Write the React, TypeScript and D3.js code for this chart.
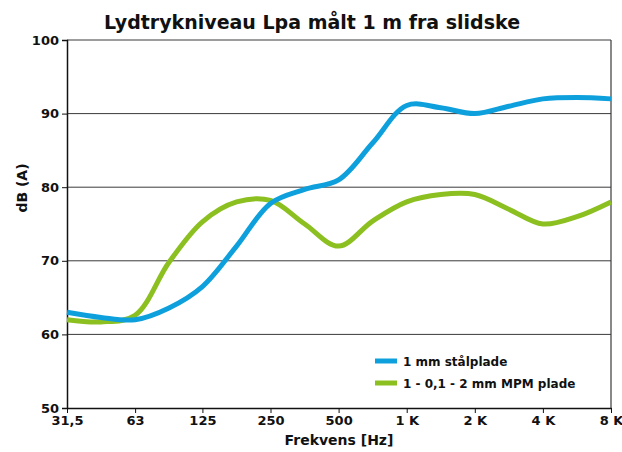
import React, { useRef, useEffect } from "react";
import * as d3 from "d3";

// half-octave frequencies (Hz)
const freqs = [31.5, 44.5, 63, 89, 125, 177, 250, 354, 500, 707, 1000, 1414, 2000, 2828, 4000, 5657, 8000];
const steelPlate = [63, 62.3, 62, 63.6, 66.5, 72, 77.8, 79.7, 81, 86, 91.1, 90.8, 90, 91, 92, 92.2, 92];
const mpmPlate = [62, 61.7, 62.6, 69.8, 75.3, 78, 78.2, 75, 72, 75.4, 78, 79, 79, 77, 75, 76, 78];

const tickFreqs = [31.5, 63, 125, 250, 500, 1000, 2000, 4000, 8000];
const tickLabels = ["31,5", "63", "125", "250", "500", "1 K", "2 K", "4 K", "8 K"];
const yTicks = [50, 60, 70, 80, 90, 100];

const seriesNames = ["1 mm stålplade", "1 - 0,1 - 2 mm MPM plade"];

const App: React.FC = () => {
  const chartRef = useRef<SVGSVGElement | null>(null);

  useEffect(() => {
    if (!chartRef.current) return;
    document.body.style.margin = "0";
    d3.select(chartRef.current).selectAll("*").remove();

    const width = 622;
    const height = 452;
    const margin = { top: 40, right: 11, bottom: 44, left: 67 };
    const font = "'DejaVu Sans', Verdana, sans-serif";

    const svg = d3
      .select(chartRef.current)
      .attr("width", width)
      .attr("height", height)
      .style("display", "block")
      .style("font-family", font);

    svg.append("rect").attr("width", width).attr("height", height).attr("fill", "#fff");

    const x = d3
      .scaleLog()
      .domain([31.5, 8000])
      .range([margin.left, width - margin.right]);
    const y = d3
      .scaleLinear()
      .domain([50, 100])
      .range([height - margin.bottom, margin.top]);

    // gridlines
    svg
      .append("g")
      .selectAll("line")
      .data(yTicks.filter((d) => d > 50))
      .enter()
      .append("line")
      .attr("x1", margin.left)
      .attr("x2", width - margin.right)
      .attr("y1", (d) => y(d))
      .attr("y2", (d) => y(d))
      .attr("stroke", "#3a3a3a")
      .attr("stroke-width", 1);

    // right border
    svg
      .append("line")
      .attr("x1", width - margin.right)
      .attr("x2", width - margin.right)
      .attr("y1", margin.top)
      .attr("y2", height - margin.bottom)
      .attr("stroke", "#3a3a3a")
      .attr("stroke-width", 1.2);

    // y axis
    const yAxis = svg
      .append("g")
      .attr("transform", `translate(${margin.left},0)`)
      .call(d3.axisLeft(y).tickValues(yTicks).tickSize(5).tickPadding(3));
    yAxis.select(".domain").attr("stroke", "#111").attr("stroke-width", 1.5);
    yAxis.selectAll(".tick line").attr("stroke", "#111");
    yAxis
      .selectAll("text")
      .style("font-size", "13px")
      .style("font-weight", "bold")
      .style("font-family", font)
      .attr("fill", "#111");

    // x axis
    const xAxis = svg
      .append("g")
      .attr("transform", `translate(0,${height - margin.bottom})`)
      .call(
        d3
          .axisBottom(x)
          .tickValues(tickFreqs)
          .tickFormat((d, i) => tickLabels[i])
          .tickSizeInner(5)
          .tickSizeOuter(0)
          .tickPadding(3)
      );
    xAxis.select(".domain").attr("stroke", "#111").attr("stroke-width", 1.5);
    xAxis.selectAll(".tick line").attr("stroke", "#111");
    xAxis
      .selectAll("text")
      .style("font-size", "13px")
      .style("font-weight", "bold")
      .style("font-family", font)
      .attr("fill", "#111");

    const colors = ["#0ea0dc", "#8cc021"];
    const line = d3
      .line<number>()
      .x((d, i) => x(freqs[i]))
      .y((d) => y(d))
      .curve(d3.curveCatmullRom.alpha(0.5));

    [mpmPlate, steelPlate].forEach((s, k) => {
      svg
        .append("path")
        .datum(s)
        .attr("fill", "none")
        .attr("stroke", colors[1 - k])
        .attr("stroke-width", 5)
        .attr("d", line);
    });

    // title
    svg
      .append("text")
      .attr("x", 312)
      .attr("y", 29)
      .attr("text-anchor", "middle")
      .style("font-size", "19px")
      .style("font-weight", "bold")
      .attr("fill", "#111")
      .text("Lydtrykniveau Lpa målt 1 m fra slidske");

    // axis titles
    svg
      .append("text")
      .attr("x", 339)
      .attr("y", 445)
      .attr("text-anchor", "middle")
      .style("font-size", "14px")
      .style("font-weight", "bold")
      .attr("fill", "#111")
      .text("Frekvens [Hz]");

    svg
      .append("text")
      .attr("transform", "translate(27,188) rotate(-90)")
      .attr("text-anchor", "middle")
      .style("font-size", "14px")
      .style("font-weight", "bold")
      .attr("fill", "#111")
      .text("dB (A)");

    // legend
    const legend = svg.append("g").attr("transform", "translate(375,361)");
    seriesNames.forEach((name, i) => {
      legend
        .append("line")
        .attr("x1", 0)
        .attr("x2", 22)
        .attr("y1", i * 22)
        .attr("y2", i * 22)
        .attr("stroke", colors[i])
        .attr("stroke-width", 5);
      legend
        .append("text")
        .attr("x", 28)
        .attr("y", i * 22 + 4.5)
        .style("font-size", "12px")
        .style("font-weight", "bold")
        .attr("fill", "#111")
        .text(name);
    });
  }, []);

  return <svg ref={chartRef}></svg>;
};

export default App;
